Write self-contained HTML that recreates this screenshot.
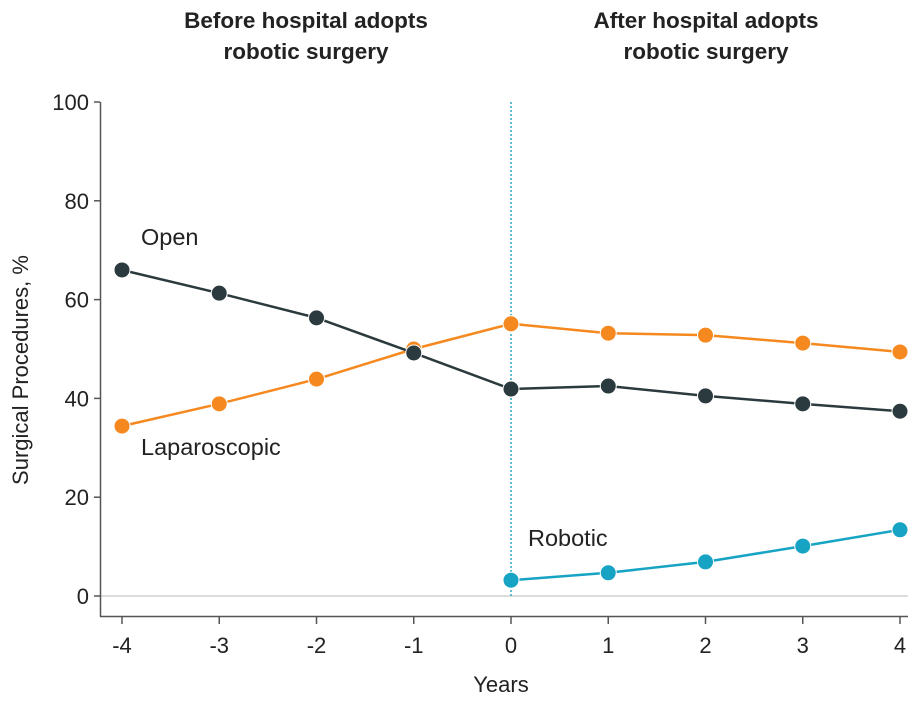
<!DOCTYPE html>
<html><head><meta charset="utf-8"><style>
body{margin:0;background:#fff;}
svg text{font-family:"Liberation Sans",sans-serif;fill:#222;}
</style></head><body>
<svg id="chart" width="916" height="703">
<text x="306" y="28" text-anchor="middle" font-size="22.5" font-weight="bold">Before hospital adopts</text>
<text x="306" y="59" text-anchor="middle" font-size="22.5" font-weight="bold">robotic surgery</text>
<text x="706" y="28" text-anchor="middle" font-size="22.5" font-weight="bold">After hospital adopts</text>
<text x="706" y="59" text-anchor="middle" font-size="22.5" font-weight="bold">robotic surgery</text>
<text transform="translate(28,370) rotate(-90)" text-anchor="middle" font-size="22">Surgical Procedures, %</text>
<text x="501" y="692" text-anchor="middle" font-size="22">Years</text>
<g id="axes"></g>
<g id="series"></g>
</svg>
<script>
const years=[-4,-3,-2,-1,0,1,2,3,4];
const openVals=[66,61.3,56.3,49.2,41.9,42.5,40.5,38.9,37.4];
const lapVals=[34.4,38.9,43.9,50,55.1,53.2,52.8,51.2,49.4];
const robYears=[0,1,2,3,4];
const robVals=[3.2,4.7,6.9,10.1,13.4];
const yTicks=[0,20,40,60,80,100];
const xTicks=[-4,-3,-2,-1,0,1,2,3,4];
const NS="http://www.w3.org/2000/svg";
const X=v=>122+(v+4)*97.25;
const Y=v=>596-v*4.94;
const axes=document.getElementById('axes'),ser=document.getElementById('series');
function mk(p,tag,a){const e=document.createElementNS(NS,tag);for(const k in a)e.setAttribute(k,a[k]);p.appendChild(e);return e;}
let g=mk(axes,'line',{x1:100,x2:908,y1:Y(0),y2:Y(0),stroke:'#ddd','stroke-width':2});


let ya=mk(axes,'line',{x1:100.5,x2:100.5,y1:Y(100),y2:617,stroke:'#555','stroke-width':1.5});


let xa=mk(axes,'line',{x1:100,x2:908,y1:616.5,y2:616.5,stroke:'#555','stroke-width':1.5});


let vl=mk(axes,'line',{x1:X(0),x2:X(0),y1:Y(100),y2:Y(0),stroke:'#2aa9c0','stroke-width':1.5,'stroke-dasharray':'2,2'});


yTicks.forEach(t=>{
 let l=mk(axes,'line',{x1:94,x2:100,y1:Y(t),y2:Y(t),stroke:'#555','stroke-width':1.5});
 
 
 let tx=mk(axes,'text',{x:89,y:Y(t)+8,'text-anchor':'end','font-size':22});tx.textContent=t;
 
 
});
xTicks.forEach(t=>{
 let l=mk(axes,'line',{x1:X(t),x2:X(t),y1:617,y2:624,stroke:'#555','stroke-width':1.5});
 
 
 let tx=mk(axes,'text',{x:X(t),y:653,'text-anchor':'middle','font-size':22});tx.textContent=t;
 
 
});
function series(xs,vs,color,name){
 let pl=mk(ser,'polyline',{points:xs.map((x,i)=>X(x)+','+Y(vs[i])).join(' '),fill:'none',stroke:color,'stroke-width':2.5});
 
 
 xs.forEach((x,i)=>{
  let c=mk(ser,'circle',{cx:X(x),cy:Y(vs[i]),r:8,fill:color,stroke:'#fff','stroke-width':1});
  
  
 });
}
series(years,lapVals,'#f5891f','laparoscopic');
series(years,openVals,'#2b3a3e','open');
series(robYears,robVals,'#16a3c4','robotic');
[['Open',141,245,'open-label'],['Laparoscopic',141,455,'laparoscopic-label'],['Robotic',528,546,'robotic-label']].forEach(d=>{
 let t=mk(ser,'text',{x:d[1],y:d[2],'font-size':23.5});t.textContent=d[0];
 
 
});
</script>
</body></html>
